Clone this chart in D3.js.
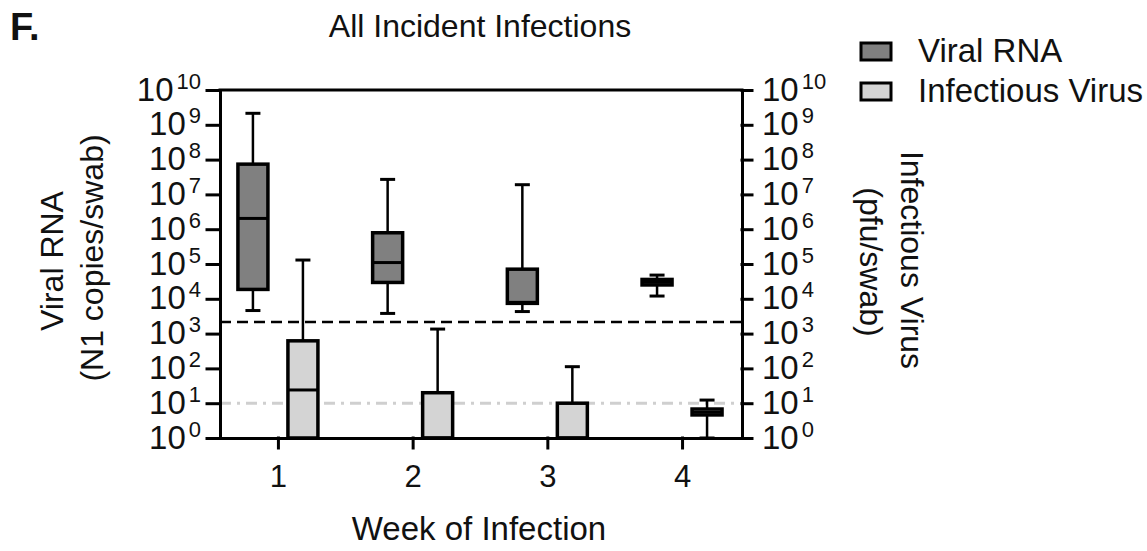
<!DOCTYPE html>
<html>
<head>
<meta charset="utf-8">
<script src="https://cdn.jsdelivr.net/npm/d3@7"></script>
<style>
  body { margin: 0; background: #fff; }
  text { font-family: "Liberation Sans", Arial, sans-serif; fill: #111; }
</style>
</head>
<body>
<div id="chart-area"><svg></svg></div>
<script>
const chartSize = { width: 1147, height: 551 };
const plot = { left: 220, right: 742, top: 90, bottom: 438 };

const weeks = [1, 2, 3, 4];
const exponents = [0, 1, 2, 3, 4, 5, 6, 7, 8, 9, 10];

// viral RNA (N1 copies/swab) box stats per week
const rnaMin = [4600, 3800, 4300, 12000];
const rnaQ1 = [18600, 29500, 7400, 25000];
const rnaMedian = [2040000, 110000, 7900, 30000];
const rnaQ3 = [74000000, 790000, 71000, 36000];
const rnaMax = [2140000000, 27000000, 19000000, 48000];

// infectious virus (pfu/swab) box stats per week
const virusMin = [1, 1, 1, 1];
const virusQ1 = [1, 1, 1, 4.6];
const virusMedian = [24, 1, 1, 5.5];
const virusQ3 = [620, 20, 10, 6.8];
const virusMax = [130000, 1350, 112, 12.3];

const rnaLimit = 2150;
const virusLimit = 10;

const seriesNames = ["Viral RNA", "Infectious Virus"];
const colours = ["#808080", "#d4d4d4"];

const svg = d3
  .select("#chart-area svg")
  .attr("width", chartSize.width)
  .attr("height", chartSize.height);

const x = d3.scaleLinear().domain([0.57, 4.445]).range([plot.left, plot.right]);
const y = d3.scaleLog().domain([1, 1e10]).range([plot.bottom, plot.top]);

// reference lines (behind boxes)
svg.append("line")
  .attr("x1", plot.left).attr("x2", plot.right)
  .attr("y1", y(virusLimit)).attr("y2", y(virusLimit))
  .attr("stroke", "#cfcfcf").attr("stroke-width", 3)
  .attr("stroke-dasharray", "11,6,3,6");

svg.append("line")
  .attr("x1", plot.left).attr("x2", plot.right)
  .attr("y1", y(rnaLimit)).attr("y2", y(rnaLimit))
  .attr("stroke", "#000").attr("stroke-width", 2.5)
  .attr("stroke-dasharray", "11,6");

const boxWidth = 30;
const capWidth = 15;

const drawBoxes = (mins, q1s, medians, q3s, maxs, offset, fill, cls) => {
  const stats = weeks.map((w, i) => ({
    week: w, min: mins[i], q1: q1s[i], med: medians[i], q3: q3s[i], max: maxs[i]
  }));
  const g = svg.append("g").attr("class", cls);
  const box = g.selectAll("g").data(stats).enter().append("g")
    .attr("transform", d => `translate(${x(d.week) + offset},0)`);

  box.append("line")
    .attr("y1", d => y(d.max)).attr("y2", d => y(d.q3))
    .attr("stroke", "#000").attr("stroke-width", 2.5);
  box.append("line")
    .attr("y1", d => y(d.q1)).attr("y2", d => y(d.min))
    .attr("stroke", "#000").attr("stroke-width", 2.5);
  box.append("line")
    .attr("x1", -capWidth / 2).attr("x2", capWidth / 2)
    .attr("y1", d => y(d.max)).attr("y2", d => y(d.max))
    .attr("stroke", "#000").attr("stroke-width", 3);
  box.append("line")
    .attr("x1", -capWidth / 2).attr("x2", capWidth / 2)
    .attr("y1", d => y(d.min)).attr("y2", d => y(d.min))
    .attr("stroke", "#000").attr("stroke-width", 3);
  box.append("rect")
    .attr("x", -boxWidth / 2).attr("width", boxWidth)
    .attr("y", d => y(d.q3))
    .attr("height", d => y(d.q1) - y(d.q3))
    .attr("fill", fill).attr("stroke", "#000").attr("stroke-width", 3.5);
  box.append("line")
    .attr("x1", -boxWidth / 2).attr("x2", boxWidth / 2)
    .attr("y1", d => y(d.med)).attr("y2", d => y(d.med))
    .attr("stroke", "#000").attr("stroke-width", 3);
};

drawBoxes(rnaMin, rnaQ1, rnaMedian, rnaQ3, rnaMax, -25, colours[0], "rna");
drawBoxes(virusMin, virusQ1, virusMedian, virusQ3, virusMax, 25, colours[1], "virus");

// axes
const styleAxis = g => {
  g.selectAll("path, line").attr("stroke", "#000").attr("stroke-width", 3)
    .attr("stroke-linecap", "square");
  g.selectAll(".tick text").remove();
};

const yTicks = exponents.map(e => Math.pow(10, e));

const addPowerLabels = (g, dx, anchor) => {
  g.selectAll(".tick").each(function(d) {
    const t = d3.select(this).append("text")
      .attr("x", dx).attr("y", 10)
      .attr("text-anchor", anchor)
      .style("font-size", "33px");
    t.append("tspan").text("10");
    t.append("tspan").attr("dx", 3).attr("dy", -12)
      .style("font-size", "22px")
      .text(Math.round(Math.log10(d)));
  });
};

const leftAxis = svg.append("g")
  .attr("transform", `translate(${plot.left},0)`)
  .call(d3.axisLeft(y).tickValues(yTicks).tickSizeInner(13).tickSizeOuter(0).tickFormat(""));
styleAxis(leftAxis);
addPowerLabels(leftAxis, -19, "end");

const rightAxis = svg.append("g")
  .attr("transform", `translate(${plot.right},0)`)
  .call(d3.axisRight(y).tickValues(yTicks).tickSizeInner(10).tickSizeOuter(0).tickFormat(""));
styleAxis(rightAxis);
addPowerLabels(rightAxis, 20, "start");

const bottomAxis = svg.append("g")
  .attr("transform", `translate(0,${plot.bottom})`)
  .call(d3.axisBottom(x).tickValues(weeks).tickSizeInner(10).tickSizeOuter(0).tickFormat(""));
styleAxis(bottomAxis);
bottomAxis.selectAll(".tick").append("text")
  .attr("y", 49).attr("text-anchor", "middle")
  .style("font-size", "31px")
  .text(d => d);

svg.append("line")
  .attr("x1", plot.left).attr("x2", plot.right)
  .attr("y1", plot.top).attr("y2", plot.top)
  .attr("stroke", "#000").attr("stroke-width", 3)
  .attr("stroke-linecap", "square");

// titles
svg.append("text")
  .attr("x", 10).attr("y", 40)
  .style("font-size", "38px").style("font-weight", "bold")
  .text("F.");

svg.append("text")
  .attr("x", 480).attr("y", 37).attr("text-anchor", "middle")
  .style("font-size", "32px")
  .text("All Incident Infections");

svg.append("text")
  .attr("x", 479).attr("y", 540).attr("text-anchor", "middle")
  .style("font-size", "33px")
  .text("Week of Infection");

svg.append("text")
  .attr("transform", "translate(63,261) rotate(-90)")
  .attr("text-anchor", "middle").style("font-size", "32px")
  .text("Viral RNA");
svg.append("text")
  .attr("transform", "translate(103,258) rotate(-90)")
  .attr("text-anchor", "middle").style("font-size", "32px")
  .text("(N1 copies/swab)");

svg.append("text")
  .attr("transform", "translate(901,260) rotate(90)")
  .attr("text-anchor", "middle").style("font-size", "32px")
  .text("Infectious Virus");
svg.append("text")
  .attr("transform", "translate(860,262) rotate(90)")
  .attr("text-anchor", "middle").style("font-size", "32px")
  .text("(pfu/swab)");

// legend
const legend = svg.append("g").attr("transform", "translate(861,43)");
const item = legend.selectAll("g").data(seriesNames).enter().append("g")
  .attr("transform", (d, i) => `translate(0,${i * 40})`);
item.append("rect")
  .attr("width", 30).attr("height", 17)
  .attr("fill", (d, i) => colours[i])
  .attr("stroke", "#000").attr("stroke-width", 3);
item.append("text")
  .attr("x", 57).attr("y", 19)
  .style("font-size", "33px")
  .text(d => d);
</script>
</body>
</html>
